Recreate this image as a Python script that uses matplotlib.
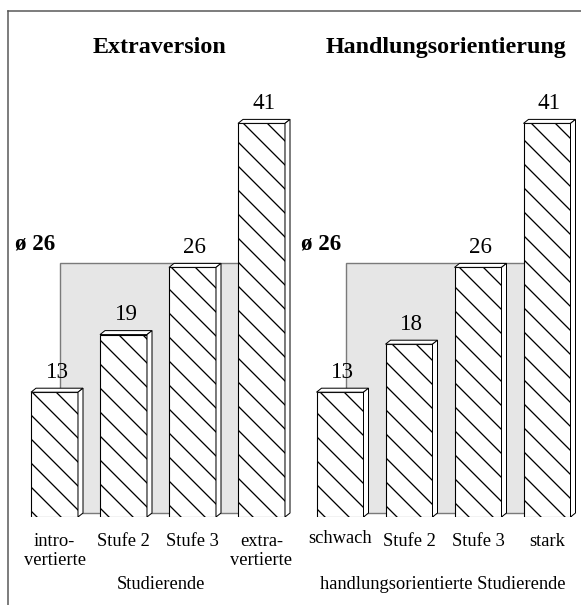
import numpy as np
import matplotlib.pyplot as plt
from matplotlib.patches import Polygon, Rectangle
from matplotlib.transforms import blended_transform_factory

plt.rcParams["font.family"] = ["Liberation Serif", "DejaVu Serif"]
plt.rcParams["hatch.linewidth"] = 1.3

# data
extra_labels = ["intro-\nvertierte", "Stufe 2", "Stufe 3", "extra-\nvertierte"]
extra_values = [13, 19, 26, 41]
handl_labels = ["schwach", "Stufe 2", "Stufe 3", "stark"]
handl_values = [13, 18, 26, 41]
averages = [26, 26]
titles = ["Extraversion", "Handlungsorientierung"]
group_labels = ["Studierende", "handlungsorientierte Studierende"]

# layout (pixels, figure is 581 x 605 at 72 dpi)
W, H = 581, 605
DPI = 72
PX_UNIT = 9.6          # pixels per value unit
BASE_Y = 517           # baseline of the bars
SPACING = 69           # pixels between bar centres
BAR_W = 47 / SPACING
DX = 5 / SPACING       # 3d depth, x
DY = 4 / PX_UNIT       # 3d depth, y


def fx(px):
    return px / W


def fy(py):
    return 1 - py / H


fig = plt.figure(figsize=(W / DPI, H / DPI), dpi=DPI, facecolor="white")

# outer frame (left and top edges visible)
fig.add_artist(plt.Line2D([fx(8), fx(8)], [fy(11), 0], color="#555555", lw=1.5))
fig.add_artist(plt.Line2D([fx(8), 1], [fy(11), fy(11)], color="#555555", lw=1.5))


def draw_panel(first_center, labels, values, avg, title, group, avg_x, title_x, grp_x, label_tops):
    left_px = first_center - SPACING / 2
    ax = fig.add_axes([fx(left_px), fy(BASE_Y), 4 * SPACING / W, (BASE_Y - 11) / H])
    ax.set_xlim(-0.5, 3.5)
    ax.set_ylim(0, (BASE_Y - 11) / PX_UNIT)
    ax.axis("off")

    # grey average wall behind the bars
    x0 = (avg_x - first_center) / SPACING
    ax.add_patch(Rectangle((x0, DY), 3.0 - x0, avg, facecolor="#e6e6e6",
                           edgecolor="#7a7a7a", lw=1.4, zorder=1))

    xs = np.arange(len(values))
    ax.bar(xs, values, width=BAR_W, color="white", edgecolor="black", lw=1.1,
           hatch="\\", zorder=3)
    for x, v in zip(xs, values):
        l, r = x - BAR_W / 2, x + BAR_W / 2
        top = Polygon([(l, v), (r, v), (r + DX, v + DY), (l + DX, v + DY)],
                      closed=True, facecolor="white", edgecolor="black", lw=1.0, zorder=4)
        side = Polygon([(r, 0), (r, v), (r + DX, v + DY), (r + DX, DY)],
                       closed=True, facecolor="white", edgecolor="black", lw=1.0, zorder=4)
        ax.add_patch(top)
        ax.add_patch(side)
        ax.text(x + DX / 2, v + 1.5, str(v), ha="center", va="baseline", fontsize=23, zorder=5)

    tr = blended_transform_factory(ax.transData, fig.transFigure)
    for x, lab, top_px in zip(xs, labels, label_tops):
        ax.text(x, fy(top_px), lab, transform=tr, ha="center", va="top",
                fontsize=18.5, linespacing=1.15)

    fig.text(fx(grp_x), fy(589), group, ha="center", va="baseline", fontsize=18.5)
    fig.text(fx(title_x), fy(53), title, ha="center", va="baseline", fontsize=24, fontweight="bold")
    fig.text(fx(avg_x - 45), fy(250), "ø " + str(avg), ha="left", va="baseline",
             fontsize=23, fontweight="bold")


draw_panel(54.5, extra_labels, extra_values, averages[0], titles[0], group_labels[0],
           60, 160, 161, [533, 533, 533, 533])
draw_panel(340, handl_labels, handl_values, averages[1], titles[1], group_labels[1],
           346, 446, 443, [530, 533, 533, 533])

fig.savefig("out.png", dpi=DPI, facecolor="white")
